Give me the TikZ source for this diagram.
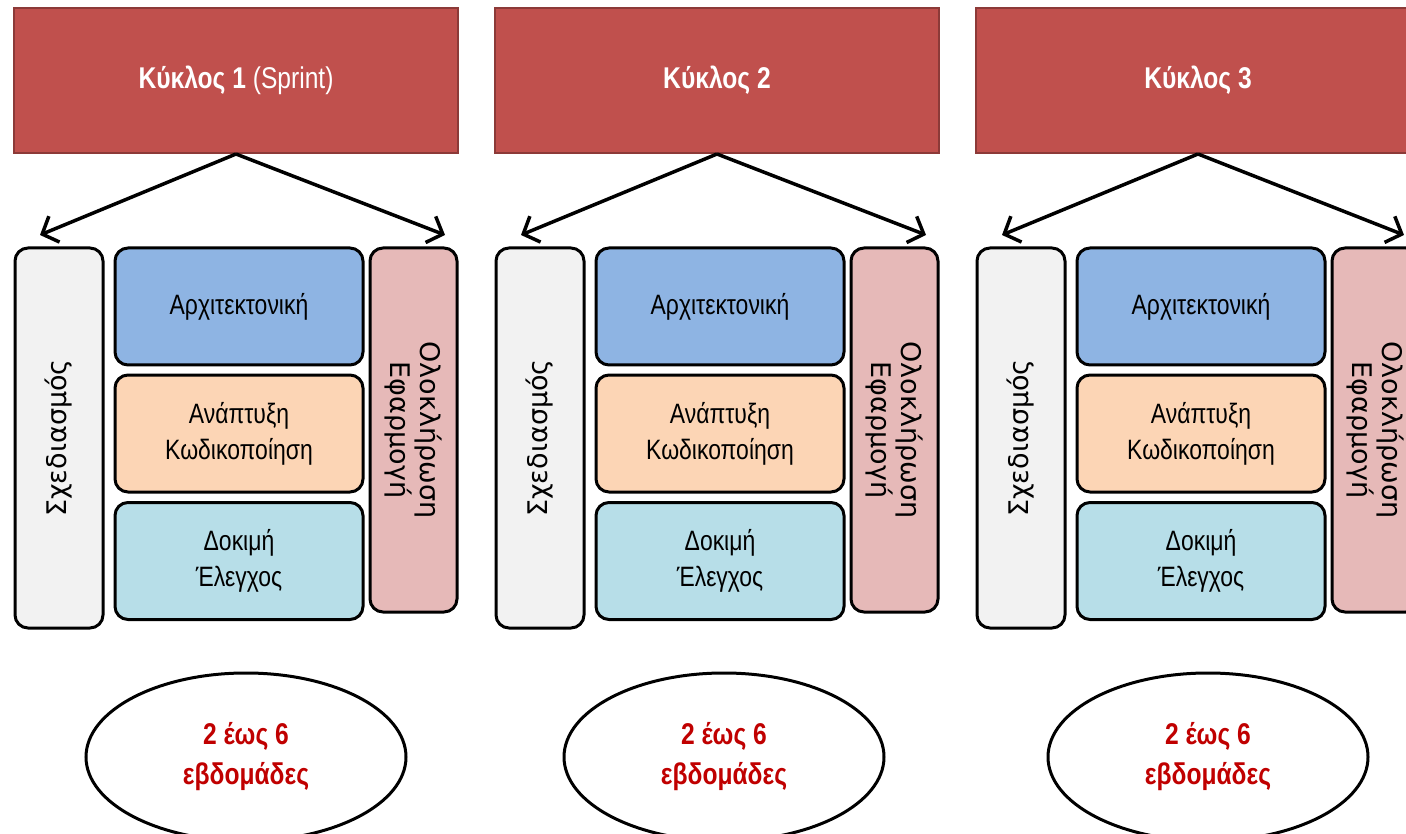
\documentclass[tikz,border=0pt]{standalone}
\usepackage{fontspec}
\setmainfont{Liberation Sans}[FakeStretch=0.82]
\newfontfamily\sidefont{DejaVu Sans}
\usetikzlibrary{arrows.meta,shapes.geometric}

\definecolor{headred}{HTML}{C0504D}
\definecolor{headline}{HTML}{8C3A38}
\definecolor{plangray}{HTML}{F2F2F2}
\definecolor{archblue}{HTML}{8EB4E3}
\definecolor{devorange}{HTML}{FCD5B5}
\definecolor{testblue}{HTML}{B7DEE8}
\definecolor{integpink}{HTML}{E6B9B8}
\definecolor{weekred}{HTML}{C00000}

\tikzset{
  head/.style={draw=headline, line width=2pt, fill=headred, text=white,
    minimum width=444pt, minimum height=145pt, inner sep=0pt,
    font=\fontsize{30}{36}\selectfont},
  phase/.style={draw=black, line width=3pt, rounded corners=13pt, inner sep=0pt,
    align=center, font=\fontsize{28}{36}\selectfont},
  midbox/.style={phase, minimum width=248pt, minimum height=117pt},
  plan/.style={phase, fill=plangray, rotate=90, minimum width=380pt, minimum height=88pt,
    font=\sidefont\fontsize{27}{30}\selectfont},
  integ/.style={phase, fill=integpink, rotate=-90, minimum width=364pt, minimum height=87pt,
    font=\sidefont\fontsize{27}{30}\selectfont},
  weeks/.style={ellipse, draw=black, line width=3pt, fill=white, text=weekred,
    minimum width=320pt, minimum height=168pt, align=center,
    font=\bfseries\fontsize{30}{40}\selectfont},
  split/.style={line width=3.5pt, -{Straight Barb[length=13pt,width=28pt,line width=3.5pt]}}
}

\begin{document}
\begin{tikzpicture}[x=1pt,y=-1pt]
  \clip (0,0) rectangle (1406,834);
  \fill[white] (0,0) rectangle (1406,834);

  % first cycle
  \node[head] (h1) at (236,80.5) {\textbf{Κύκλος 1} (Sprint)};
  \node[plan] (p1) at (59,438) {Σχεδιασμός};
  \node[midbox, fill=archblue] (a1) at (239,306.5) {Αρχιτεκτονική};
  \node[midbox, fill=devorange] (d1) at (239,433.5) {Ανάπτυξη\\Κωδικοποίηση};
  \node[midbox, fill=testblue] (t1) at (239,561) {Δοκιμή\\Έλεγχος};
  \node[integ] (i1) at (413.5,430) {Ολοκλήρωση\\Εφαρμογή};
  \node[weeks] (w1) at (246,757) {2 έως 6\\εβδομάδες};
  \coordinate (l1) at (40,235);
  \coordinate (r1) at (445,235);

  % second cycle
  \node[head] (h2) at (717,80.5) {\textbf{Κύκλος 2}};
  \node[plan] (p2) at (540,438) {Σχεδιασμός};
  \node[midbox, fill=archblue] (a2) at (720,306.5) {Αρχιτεκτονική};
  \node[midbox, fill=devorange] (d2) at (720,433.5) {Ανάπτυξη\\Κωδικοποίηση};
  \node[midbox, fill=testblue] (t2) at (720,561) {Δοκιμή\\Έλεγχος};
  \node[integ] (i2) at (894.5,430) {Ολοκλήρωση\\Εφαρμογή};
  \node[weeks] (w2) at (724,757) {2 έως 6\\εβδομάδες};
  \coordinate (l2) at (521,235);
  \coordinate (r2) at (926,235);

  % third cycle
  \node[head] (h3) at (1198,80.5) {\textbf{Κύκλος 3}};
  \node[plan] (p3) at (1021,438) {Σχεδιασμός};
  \node[midbox, fill=archblue] (a3) at (1201,306.5) {Αρχιτεκτονική};
  \node[midbox, fill=devorange] (d3) at (1201,433.5) {Ανάπτυξη\\Κωδικοποίηση};
  \node[midbox, fill=testblue] (t3) at (1201,561) {Δοκιμή\\Έλεγχος};
  \node[integ] (i3) at (1375.5,430) {Ολοκλήρωση\\Εφαρμογή};
  \node[weeks] (w3) at (1208,757) {2 έως 6\\εβδομάδες};
  \coordinate (l3) at (1002,235);
  \coordinate (r3) at (1404,235);

  \begin{scope}[split]
    \draw (h1.south) -- (l1);
    \draw (h1.south) -- (r1);
    \draw (h2.south) -- (l2);
    \draw (h2.south) -- (r2);
    \draw (h3.south) -- (l3);
    \draw (h3.south) -- (r3);
  \end{scope}
\end{tikzpicture}
\end{document}
